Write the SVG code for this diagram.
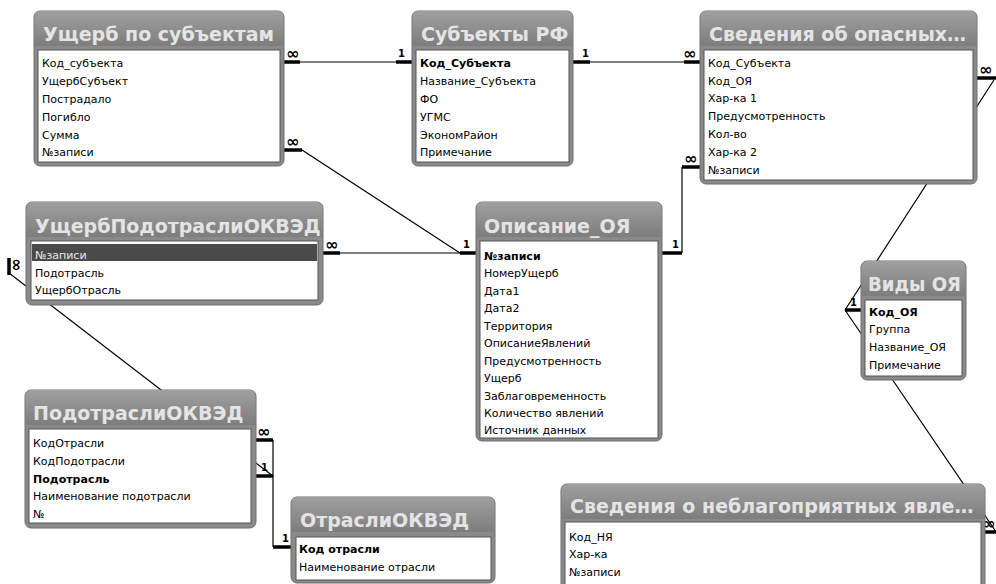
<svg xmlns="http://www.w3.org/2000/svg" width="996" height="584" viewBox="0 0 996 584">
<defs>
<linearGradient id="hdr" x1="0" y1="0" x2="0" y2="1">
<stop offset="0" stop-color="#a0a0a0"/>
<stop offset="1" stop-color="#7d7d7d"/>
</linearGradient>
</defs>
<style>
.frame{fill:#8a8a8a;stroke:#6f6f6f;stroke-width:1}
.hdr{fill:url(#hdr)}
.list{fill:#ffffff;stroke:#555555;stroke-width:1}
.title{font-family:"DejaVu Sans",Verdana,sans-serif;font-weight:bold;font-size:19px;fill:#e4e4e4}
.row{font-family:"DejaVu Sans",Verdana,sans-serif;font-size:11px;fill:#000}
.b{font-weight:bold}
.sel{fill:#4a4a4a}
.selt{fill:#e8e8e8}
.ln{stroke:#000;stroke-width:1.2;fill:none}
.stub{stroke:#000;stroke-width:3.5;fill:none}
.inf{font-family:"DejaVu Sans",sans-serif;font-weight:bold;font-size:16px;fill:#000}
.one{font-family:"DejaVu Sans",sans-serif;font-weight:bold;font-size:10px;fill:#000}
</style>
<rect width="996" height="584" fill="#ffffff"/>

<g id="connectors">
<!-- Ущерб по субъектам -> Субъекты РФ -->
<line class="ln" x1="300" y1="62" x2="396" y2="62"/>
<line class="stub" x1="284" y1="62" x2="300" y2="62"/>
<line class="stub" x1="396" y1="62" x2="412" y2="62"/>
<text class="inf" x="286" y="59">∞</text>
<text class="one" x="398" y="57">1</text>
<!-- Субъекты РФ -> Сведения об опасных -->
<line class="ln" x1="590" y1="62" x2="684" y2="62"/>
<line class="stub" x1="573" y1="62" x2="590" y2="62"/>
<line class="stub" x1="684" y1="62" x2="700" y2="62"/>
<text class="one" x="582" y="57">1</text>
<text class="inf" x="683" y="59">∞</text>
<!-- Ущерб по субъектам -> Описание_ОЯ -->
<line class="stub" x1="284" y1="150" x2="302" y2="150"/>
<line class="ln" x1="302" y1="150" x2="460" y2="253"/>
<text class="inf" x="286" y="147">∞</text>
<!-- УщербПодотраслиОКВЭД -> Описание_ОЯ -->
<line class="stub" x1="323" y1="253" x2="340" y2="253"/>
<line class="ln" x1="340" y1="253" x2="460" y2="253"/>
<line class="stub" x1="460" y1="253" x2="476" y2="253"/>
<text class="inf" x="325" y="250">∞</text>
<text class="one" x="463" y="248">1</text>
<!-- Описание_ОЯ -> Сведения об опасных -->
<line class="stub" x1="662" y1="253" x2="682" y2="253"/>
<line class="ln" x1="682" y1="253" x2="682" y2="167"/>
<line class="stub" x1="682" y1="167" x2="700" y2="167"/>
<text class="one" x="672" y="248">1</text>
<text class="inf" x="684" y="164">∞</text>
<!-- Сведения об опасных -> Виды ОЯ -->
<line class="stub" x1="977" y1="78" x2="996" y2="78"/>
<line class="ln" x1="994" y1="80" x2="845" y2="310"/>
<line class="stub" x1="845" y1="310" x2="861" y2="310"/>
<text class="inf" x="979" y="75">∞</text>
<text class="one" x="850" y="306">1</text>
<!-- Виды ОЯ -> Сведения о неблагоприятных -->
<line class="ln" x1="845" y1="310" x2="1005" y2="545"/>
<line class="stub" x1="983" y1="532" x2="996" y2="532"/>
<text class="inf" x="982" y="529">∞</text>
<!-- УщербПодотраслиОКВЭД -> ПодотраслиОКВЭД -->
<line class="stub" x1="9" y1="258" x2="9" y2="275"/>
<text class="inf" text-anchor="middle" transform="translate(21,265) rotate(-90)">∞</text>
<line class="ln" x1="9" y1="273" x2="273" y2="476"/>
<line class="stub" x1="256" y1="476" x2="273" y2="476"/>
<text class="one" x="261" y="471">1</text>
<!-- ПодотраслиОКВЭД -> ОтраслиОКВЭД -->
<line class="stub" x1="256" y1="440" x2="273" y2="440"/>
<line class="ln" x1="273" y1="440" x2="273" y2="547"/>
<line class="stub" x1="273" y1="547" x2="291" y2="547"/>
<text class="inf" x="257" y="437">∞</text>
<text class="one" x="282" y="542">1</text>
</g>

<g id="n1">
<rect class="frame" x="34" y="11" width="250" height="155" rx="6"/>
<path class="hdr" d="M34.5 46 V17 a6 6 0 0 1 6 -6 H277.5 a6 6 0 0 1 6 6 V46 Z"/>
<rect class="list" x="38" y="50" width="242" height="112"/>
<text class="title" x="43" y="41">Ущерб по субъектам</text>
<text class="row" x="42" y="67">Код_субъекта</text>
<text class="row" x="42" y="85">УщербСубъект</text>
<text class="row" x="42" y="103">Пострадало</text>
<text class="row" x="42" y="121">Погибло</text>
<text class="row" x="42" y="139">Сумма</text>
<text class="row" x="42" y="156">№записи</text>
</g>

<g id="n2">
<rect class="frame" x="412" y="11" width="161" height="155" rx="6"/>
<path class="hdr" d="M412.5 46 V17 a6 6 0 0 1 6 -6 H566.5 a6 6 0 0 1 6 6 V46 Z"/>
<rect class="list" x="416" y="50" width="153" height="112"/>
<text class="title" x="421" y="41">Субъекты РФ</text>
<text class="row b" x="420" y="67">Код_Субъекта</text>
<text class="row" x="420" y="85">Название_Субъекта</text>
<text class="row" x="420" y="103">ФО</text>
<text class="row" x="420" y="121">УГМС</text>
<text class="row" x="420" y="139">ЭкономРайон</text>
<text class="row" x="420" y="156">Примечание</text>
</g>

<g id="n3">
<rect class="frame" x="700" y="11" width="277" height="173" rx="6"/>
<path class="hdr" d="M700.5 46 V17 a6 6 0 0 1 6 -6 H970.5 a6 6 0 0 1 6 6 V46 Z"/>
<rect class="list" x="704" y="50" width="269" height="130"/>
<text class="title" x="709" y="41">Сведения об опасных…</text>
<text class="row" x="708" y="67">Код_Субъекта</text>
<text class="row" x="708" y="85">Код_ОЯ</text>
<text class="row" x="708" y="102">Хар-ка 1</text>
<text class="row" x="708" y="120">Предусмотренность</text>
<text class="row" x="708" y="138">Кол-во</text>
<text class="row" x="708" y="156">Хар-ка 2</text>
<text class="row" x="708" y="174">№записи</text>
</g>

<g id="n4">
<rect class="frame" x="26" y="202" width="297" height="103" rx="6"/>
<path class="hdr" d="M26.5 237 V208 a6 6 0 0 1 6 -6 H316.5 a6 6 0 0 1 6 6 V237 Z"/>
<rect class="list" x="31" y="241" width="287" height="59"/>
<rect class="sel" x="32" y="244" width="285" height="17"/>
<text class="title" x="35" y="233">УщербПодотраслиОКВЭД</text>
<text class="row selt" x="35" y="259">№записи</text>
<text class="row" x="35" y="277">Подотрасль</text>
<text class="row" x="35" y="294">УщербОтрасль</text>
</g>

<g id="n5">
<rect class="frame" x="476" y="202" width="186" height="239" rx="6"/>
<path class="hdr" d="M476.5 237 V208 a6 6 0 0 1 6 -6 H655.5 a6 6 0 0 1 6 6 V237 Z"/>
<rect class="list" x="480" y="241" width="178" height="197"/>
<text class="title" x="484" y="233">Описание_ОЯ</text>
<text class="row b" x="484" y="260">№записи</text>
<text class="row" x="484" y="277">НомерУщерб</text>
<text class="row" x="484" y="295">Дата1</text>
<text class="row" x="484" y="312">Дата2</text>
<text class="row" x="484" y="330">Территория</text>
<text class="row" x="484" y="347">ОписаниеЯвлений</text>
<text class="row" x="484" y="365">Предусмотренность</text>
<text class="row" x="484" y="382">Ущерб</text>
<text class="row" x="484" y="400">Заблаговременность</text>
<text class="row" x="484" y="417">Количество явлений</text>
<text class="row" x="484" y="434">Источник данных</text>
</g>

<g id="n6">
<rect class="frame" x="861" y="261" width="105" height="119" rx="6"/>
<path class="hdr" d="M861.5 296 V267 a6 6 0 0 1 6 -6 H959.5 a6 6 0 0 1 6 6 V296 Z"/>
<rect class="list" x="865" y="300" width="97" height="76"/>
<text class="title" x="868" y="291" textLength="93" lengthAdjust="spacingAndGlyphs">Виды ОЯ</text>
<text class="row b" x="869" y="316">Код_ОЯ</text>
<text class="row" x="869" y="333">Группа</text>
<text class="row" x="869" y="351">Название_ОЯ</text>
<text class="row" x="869" y="369">Примечание</text>
</g>

<g id="n7">
<rect class="frame" x="25" y="390" width="231" height="138" rx="6"/>
<path class="hdr" d="M25.5 425 V396 a6 6 0 0 1 6 -6 H249.5 a6 6 0 0 1 6 6 V425 Z"/>
<rect class="list" x="29" y="429" width="222" height="94"/>
<text class="title" x="33" y="420">ПодотраслиОКВЭД</text>
<text class="row" x="33" y="447">КодОтрасли</text>
<text class="row" x="33" y="465">КодПодотрасли</text>
<text class="row b" x="33" y="483">Подотрасль</text>
<text class="row" x="33" y="500">Наименование подотрасли</text>
<text class="row" x="33" y="518">№</text>
</g>

<g id="n8">
<rect class="frame" x="291" y="497" width="204" height="86" rx="6"/>
<path class="hdr" d="M291.5 532 V503 a6 6 0 0 1 6 -6 H488.5 a6 6 0 0 1 6 6 V532 Z"/>
<rect class="list" x="296" y="537" width="195" height="43"/>
<text class="title" x="300" y="527">ОтраслиОКВЭД</text>
<text class="row b" x="299" y="553">Код отрасли</text>
<text class="row" x="299" y="571">Наименование отрасли</text>
</g>

<g id="n9">
<rect class="frame" x="561" y="484" width="424" height="120" rx="6"/>
<path class="hdr" d="M561.5 519 V490 a6 6 0 0 1 6 -6 H978.5 a6 6 0 0 1 6 6 V519 Z"/>
<rect class="list" x="565" y="522" width="416" height="75"/>
<text class="title" x="570" y="513">Сведения о неблагоприятных явле…</text>
<text class="row" x="569" y="541">Код_НЯ</text>
<text class="row" x="569" y="558">Хар-ка</text>
<text class="row" x="569" y="576">№записи</text>
</g>
</svg>
